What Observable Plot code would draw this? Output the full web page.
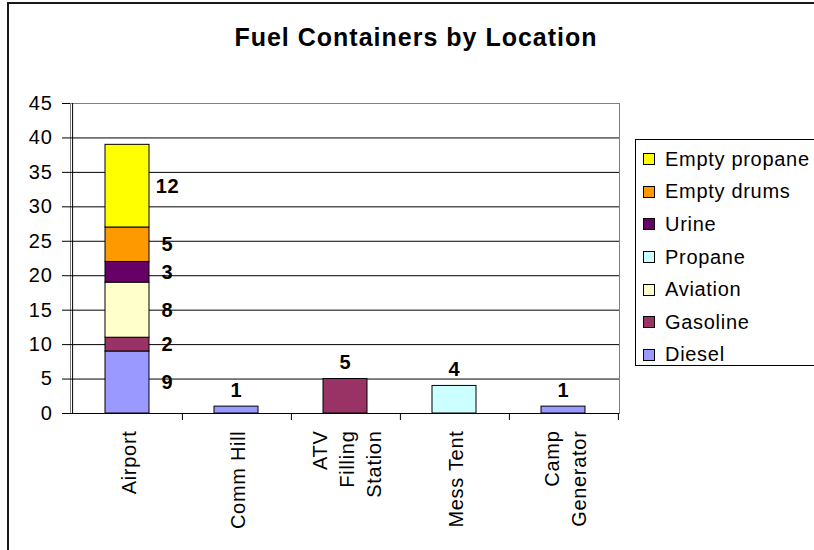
<!DOCTYPE html>
<html><head><meta charset="utf-8">
<script src="https://cdn.jsdelivr.net/npm/d3@7"></script>
<script src="https://cdn.jsdelivr.net/npm/@observablehq/plot@0.6"></script>
<style>
html,body{margin:0;padding:0;background:#fff;overflow:hidden;}
#wrap{position:relative;width:814px;height:550px;font-family:"Liberation Sans",Arial,sans-serif;color:#000;overflow:hidden;}
#border{position:absolute;left:7px;top:2px;width:820px;height:560px;border-left:2px solid #1a1a1a;border-top:2px solid #1a1a1a;}
#plot{position:absolute;left:0;top:0;}
#title{position:absolute;left:116px;width:600px;top:25px;text-align:center;font-weight:bold;font-size:25px;line-height:25px;letter-spacing:1px;}
#legend{position:absolute;left:635px;top:139px;width:200px;height:227px;box-sizing:border-box;border:1px solid #000;padding-top:3px;background:#fff;}
.item{height:32.6px;display:flex;align-items:center;font-size:20px;letter-spacing:0.7px;}
.sw{width:10px;height:10px;border:1px solid #000;margin-left:7px;margin-right:10px;flex:none;}
</style></head><body>
<div id="wrap">
  <div id="border"></div>
  <div id="plot"></div>
  <div id="title">Fuel Containers by Location</div>
  <div id="legend"></div>
</div>
<script>
// categories
const locations = ["Airport", "Comm Hill", "ATV Filling Station", "Mess Tent", "Camp Generator"];
const locationTickLabels = ["Airport", "Comm Hill", "ATV\nFilling\nStation", "Mess Tent", "Camp\nGenerator"];
// series, stacking order bottom -> top
const seriesNames = ["Diesel", "Gasoline", "Aviation", "Propane", "Urine", "Empty drums", "Empty propane"];
const seriesColors = ["#9999FF", "#993366", "#FFFFCC", "#CCFFFF", "#660066", "#FF9900", "#FFFF00"];
const legendOrder = ["Empty propane", "Empty drums", "Urine", "Propane", "Aviation", "Gasoline", "Diesel"];
// values per location
const diesel       = [9, 1, 0, 0, 1];
const gasoline     = [2, 0, 5, 0, 0];
const aviation     = [8, 0, 0, 0, 0];
const propane      = [0, 0, 0, 4, 0];
const urine        = [3, 0, 0, 0, 0];
const emptyDrums   = [5, 0, 0, 0, 0];
const emptyPropane = [12, 0, 0, 0, 0];
// tick labels
const yTicks = [0, 5, 10, 15, 20, 25, 30, 35, 40, 45];

const seriesValues = [diesel, gasoline, aviation, propane, urine, emptyDrums, emptyPropane];
const table = [];
seriesNames.forEach((s, si) => locations.forEach((loc, li) => table.push({location: loc, series: s, value: seriesValues[si][li]})));
const nonzero = table.filter(d => d.value > 0);
const segCount = new Map(locations.map(loc => [loc, nonzero.filter(d => d.location === loc).length]));
const sideRows = nonzero.filter(d => segCount.get(d.location) > 1);
const topRows = nonzero.filter(d => segCount.get(d.location) === 1);

const W = 814, H = 550, mL = 70, mR = 195, mT = 103, mB = 137;
const step = (W - mL - mR) / locations.length;

const chart = Plot.plot({
  width: W, height: H,
  marginLeft: mL, marginRight: mR, marginTop: mT, marginBottom: mB,
  style: "font-family:'Liberation Sans',Arial,sans-serif;font-size:20px;letter-spacing:0.7px;background:transparent;overflow:visible;color:#000;",
  x: {domain: locations, paddingInner: 0.6, paddingOuter: 0.3, axis: null},
  y: {domain: [0, 45], axis: null},
  color: {domain: seriesNames, range: seriesColors},
  marks: [
    Plot.frame({stroke: "#808080"}),
    Plot.gridY(yTicks.filter(t => t > 0 && t < 45), {stroke: "#000", strokeOpacity: 1}),
    Plot.barY(nonzero, {x: "location", y: "value", fill: "series", stroke: "#000", strokeWidth: 1, order: seriesNames}),
    Plot.ruleY([0], {stroke: "#000"}),
    Plot.ruleX([locations[0]], {dx: -step / 2, stroke: "#000"}),
    Plot.axisY({ticks: yTicks, tickSize: 8, tickPadding: 10, stroke: "#000", fill: "#000", label: null, tickFormat: d => String(d)}),
    Plot.axisX({tickSize: 7, dx: step / 2, stroke: "#000", fill: "none", label: null}),
    Plot.axisX({tickSize: 0, tickPadding: 17, tickRotate: -90, textAnchor: "end", lineAnchor: "middle", lineHeight: 1.35, fill: "#000", label: null,
      tickFormat: d => locationTickLabels[locations.indexOf(d)]}),
    Plot.text(sideRows, Plot.stackY({x: "location", y: "value", z: "series", order: seriesNames, text: d => String(d.value), dx: 40, fontWeight: "bold", fill: "#000"})),
    Plot.text(topRows, Plot.stackY2({x: "location", y: "value", z: "series", order: seriesNames, text: d => String(d.value), dy: -16, fontWeight: "bold", fill: "#000"}))
  ]
});
document.getElementById("plot").appendChild(chart);

const legend = document.getElementById("legend");
legendOrder.forEach(name => {
  const item = document.createElement("div");
  item.className = "item";
  const sw = document.createElement("span");
  sw.className = "sw";
  sw.style.background = seriesColors[seriesNames.indexOf(name)];
  const label = document.createElement("span");
  label.textContent = name;
  item.appendChild(sw);
  item.appendChild(label);
  legend.appendChild(item);
});
</script>
</body></html>
